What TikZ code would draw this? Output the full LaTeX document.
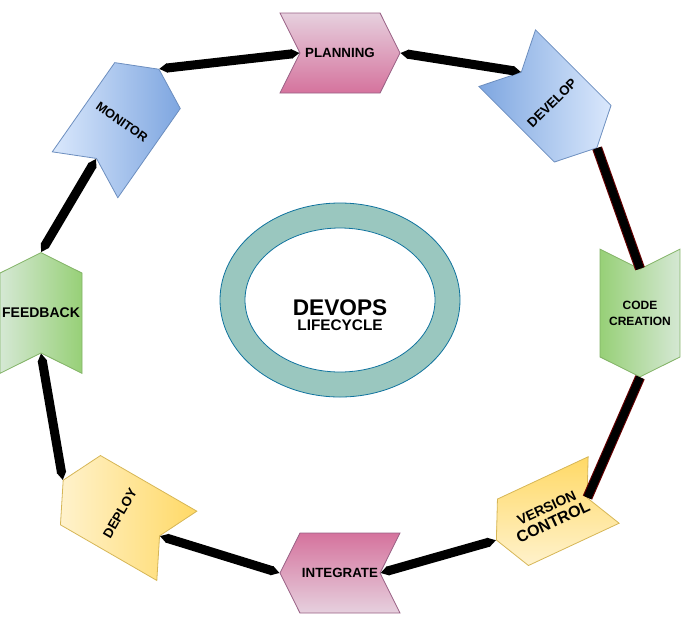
\documentclass[tikz,border=0pt]{standalone}
\usepackage{fontspec}
\setmainfont{Liberation Sans}
\usepackage{xcolor}
\usepackage{tikz}
\usetikzlibrary{shapes.symbols,shapes.geometric,arrows.meta}

\definecolor{pinklt}{HTML}{E6D0DE}
\definecolor{pinkdk}{HTML}{D5739D}
\definecolor{pinkline}{HTML}{996185}
\definecolor{bluelt}{HTML}{DAE8FC}
\definecolor{bluedk}{HTML}{7EA6E0}
\definecolor{blueline}{HTML}{6C8EBF}
\definecolor{greenlt}{HTML}{D5E8D4}
\definecolor{greendk}{HTML}{97D077}
\definecolor{greenline}{HTML}{82B366}
\definecolor{yellowlt}{HTML}{FFF2CC}
\definecolor{yellowdk}{HTML}{FFD966}
\definecolor{yellowline}{HTML}{D6B656}
\definecolor{ringfill}{HTML}{9AC7BF}
\definecolor{ringline}{HTML}{10739E}
\definecolor{linkred}{HTML}{660000}

\begin{document}
\begin{tikzpicture}[
    x=0.75pt, y=-0.75pt,
    font=\bfseries\fontsize{10}{12}\selectfont,
    stage/.style={
      signal, signal pointer angle=127, align=center, inner sep=1pt,
      line width=0.6pt
    },
    flat/.style={stage, minimum width=90pt, minimum height=60pt},
    tall/.style={stage, minimum width=60pt, minimum height=90pt},
    toeast/.style={flat, signal to=east, signal from=west},
    towest/.style={flat, signal to=west, signal from=east},
    tosouth/.style={tall, signal to=south, signal from=north},
    tonorth/.style={tall, signal to=north, signal from=south},
    ring/.style={ellipse, draw=ringline, line width=0.6pt, inner sep=0pt},
    link/.style={line width=6.8pt,
      {Triangle[length=6pt, width=0pt 1]}-{Triangle[length=6pt, width=0pt 1]}},
    redlink/.style={draw=linkred, line width=0.8pt, double=black,
      double distance=6pt}
  ]
    \useasboundingbox (0,0) rectangle (681,626);

    \node[ring, fill=ringfill, minimum width=180pt, minimum height=145.5pt] (outer) at (340,300) {};
    \node[ring, fill=white, minimum width=142.5pt, minimum height=108pt] (inner) at (340,300) {};
    \node[align=center] (title) at (340,315) {%
      {\fontsize{17}{18}\selectfont DEVOPS}\\[-1pt]
      {\fontsize{11.5}{13}\selectfont LIFECYCLE}};

    \node[toeast, draw=pinkline, top color=pinklt, bottom color=pinkdk] (plan) at (340,53) {PLANNING};
    \node[tosouth, rotate=45, draw=blueline, left color=bluedk, right color=bluelt] (dev) at (552,103) {DEVELOP};
    \node[tosouth, draw=greenline, left color=greendk, right color=greenlt,
      font=\bfseries\fontsize{9}{12}\selectfont] (code) at (640,313) {CODE\\CREATION};
    \node[towest, rotate=25, draw=yellowline, top color=yellowdk, bottom color=yellowlt,
      minimum width=88pt, minimum height=55pt] (ver) at (550,515) {%
      {\fontsize{10.5}{12}\selectfont VERSION}\\
      {\fontsize{12}{13}\selectfont CONTROL}};
    \node[towest, draw=pinkline, top color=pinkdk, bottom color=pinklt] (integ) at (340,573) {INTEGRATE};
    \node[tonorth, rotate=60, draw=yellowline, left color=yellowlt, right color=yellowdk] (dep) at (120,513) {DEPLOY};
    \node[tonorth, draw=greenline, left color=greenlt, right color=greendk, minimum width=61.5pt,
      font=\bfseries\fontsize{10.5}{12}\selectfont] (feed) at (41,313) {FEEDBACK};
    \node[tonorth, rotate=-35, draw=blueline, left color=bluelt, right color=bluedk,
      font=\bfseries\fontsize{9.5}{12}\selectfont] (mon) at (122,122) {MONITOR};

    \draw[link] (mon.north) -- (plan.west);
    \draw[link] (plan.east) -- (dev.north);
    \draw[redlink] (dev.south) -- (code.north);
    \draw[redlink] (code.south) -- (ver.east);
    \draw[link] (ver.west) -- (integ.east);
    \draw[link] (integ.west) -- (dep.south);
    \draw[link] (dep.north) -- (feed.south);
    \draw[link] (feed.north) -- (mon.south);
  \end{tikzpicture}
\end{document}
